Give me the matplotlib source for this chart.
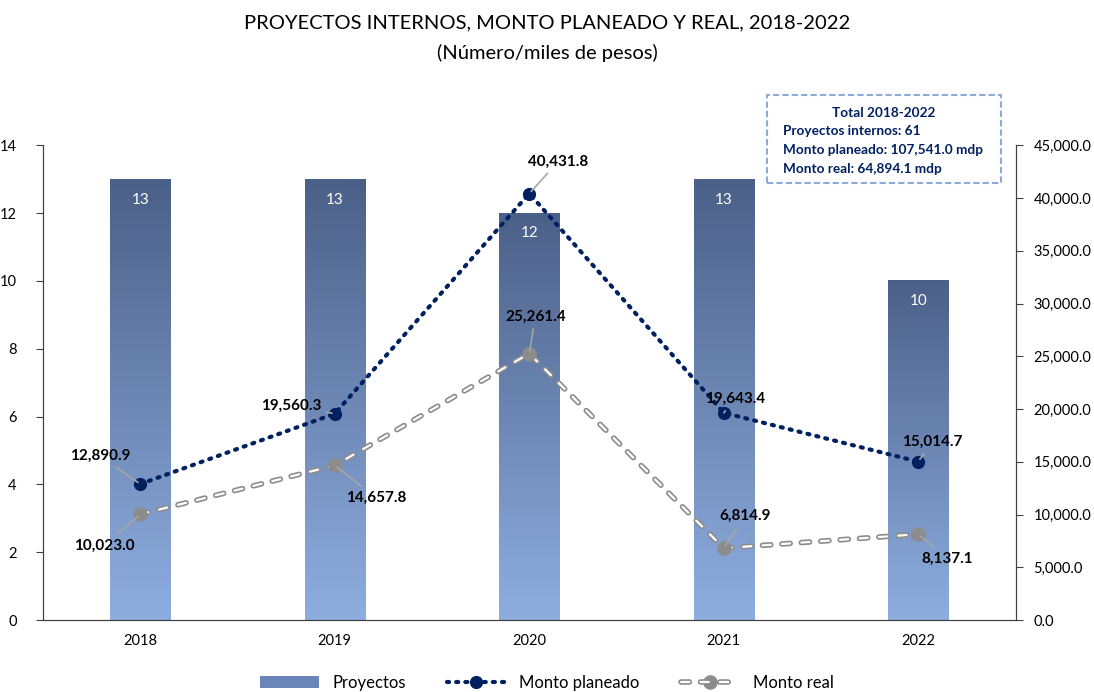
import numpy as np
import matplotlib.pyplot as plt
from matplotlib.lines import Line2D
from matplotlib.patches import Patch, FancyBboxPatch
from matplotlib.colors import LinearSegmentedColormap
from matplotlib.ticker import FuncFormatter

plt.rcParams['font.family'] = ['Lato', 'DejaVu Sans']

years = ['2018', '2019', '2020', '2021', '2022']
proyectos = [13, 13, 12, 13, 10]
monto_planeado = [12890.9, 19560.3, 40431.8, 19643.4, 15014.7]
monto_real = [10023.0, 14657.8, 25261.4, 6814.9, 8137.1]

# label offsets (pixels) for the data labels
off_plan = [(-40, 28), (-44, 8), (29, 32), (11, 14), (14, 20)]
off_real = [(-36, -31), (41, -32), (6, 37), (21, 32), (29, -25)]

navy = '#002060'
gray = '#8c8c8c'

# dashed "pill" style for monto real: gray outer, white core, same pattern
lw_out, lw_in = 4.0, 1.6
dash_pt = (6.0, 8.0)
dash_out = (0, (dash_pt[0] / lw_out, dash_pt[1] / lw_out))
dash_in = (0, (dash_pt[0] / lw_in, dash_pt[1] / lw_in))

fig = plt.figure(figsize=(10.94, 6.92), dpi=100)
ax = fig.add_axes([0.0393, 0.104, 0.889, 0.686])
ax2 = ax.twinx()

x = np.arange(len(years))
w = 0.31
cmap = LinearSegmentedColormap.from_list('bar', ['#8eaee0', '#4b6088'])
grad = np.linspace(0, 1, 256).reshape(-1, 1)
for i, v in enumerate(proyectos):
    ax.imshow(grad, extent=(i - w / 2, i + w / 2, 0, v), origin='lower',
              aspect='auto', cmap=cmap, zorder=1)
    ax.text(i, v - 0.6, str(v), ha='center', va='center', color='white',
            fontsize=11, zorder=2)

ax.set_xlim(-0.5, len(years) - 0.5)
ax.set_ylim(0, 14)
ax.set_yticks(range(0, 15, 2))
ax.set_xticks(x)
ax.set_xticklabels(years)
ax.tick_params(axis='x', length=0, pad=10, labelsize=10.5)
ax.tick_params(axis='y', length=5, labelsize=10.5, color='#404040', pad=14)
ax.spines['top'].set_visible(False)
ax2.spines['top'].set_visible(False)
for s in ['left', 'right', 'bottom']:
    ax.spines[s].set_color('#404040')
    ax2.spines[s].set_color('#404040')

ax2.set_ylim(0, 45000)
ax2.set_yticks(range(0, 45001, 5000))
ax2.yaxis.set_major_formatter(FuncFormatter(lambda v, p: f'{v:,.1f}'))
ax2.tick_params(axis='y', length=5, labelsize=10.5, color='#404040', pad=8)
ax2.set_zorder(ax.get_zorder() + 1)
ax2.patch.set_visible(False)

# monto planeado
ax2.plot(x, monto_planeado, color=navy, lw=3.0, linestyle=(0, (0.5, 1.7)),
         dash_capstyle='round', marker='o', markersize=8.5, zorder=4)
# monto real
ax2.plot(x, monto_real, color=gray, lw=lw_out, linestyle=dash_out,
         dash_capstyle='round', zorder=3)
ax2.plot(x, monto_real, color='white', lw=lw_in, linestyle=dash_in,
         dash_capstyle='round', zorder=3)
ax2.plot(x, monto_real, linestyle='none', marker='o', markersize=9.5,
         color=gray, zorder=3)

for i, v in enumerate(monto_planeado):
    ax2.annotate(f'{v:,.1f}', xy=(i, v), xytext=off_plan[i],
                 textcoords='offset pixels', ha='center', va='center',
                 fontsize=11, fontweight='bold', color='black', zorder=6,
                 arrowprops=dict(arrowstyle='-', color='#a6a6a6', lw=1.2,
                                 shrinkA=2, shrinkB=2))
for i, v in enumerate(monto_real):
    ax2.annotate(f'{v:,.1f}', xy=(i, v), xytext=off_real[i],
                 textcoords='offset pixels', ha='center', va='center',
                 fontsize=11, fontweight='bold', color='black', zorder=6,
                 arrowprops=dict(arrowstyle='-', color='#a6a6a6', lw=1.2,
                                 shrinkA=2, shrinkB=2))

fig.text(0.5, 0.967, 'PROYECTOS INTERNOS, MONTO PLANEADO Y REAL, 2018-2022',
         ha='center', va='center', fontsize=14.5)
fig.text(0.5, 0.924, '(Número/miles de pesos)', ha='center', va='center',
         fontsize=14.5)

# total box
box = FancyBboxPatch((767 / 1094, 1 - 183 / 692), 234 / 1094, 88 / 692,
                     boxstyle='square,pad=0', transform=fig.transFigure,
                     fill=False, edgecolor='#8eaadb', lw=1.5,
                     linestyle=(0, (3, 1.5)))
fig.patches.append(box)
fig.text(884 / 1094, 1 - 113 / 692, 'Total 2018-2022', ha='center',
         va='center', fontsize=9.8, fontweight='bold', color=navy)
lines = ['Proyectos internos: 61', 'Monto planeado: 107,541.0 mdp',
         'Monto real: 64,894.1 mdp']
for k, t in enumerate(lines):
    fig.text(783 / 1094, 1 - (131 + k * 19) / 692, t, ha='left', va='center',
             fontsize=9.8, fontweight='bold', color=navy)

h_bar = Patch(facecolor='#6a86b8', edgecolor='none')
h_plan = Line2D([], [], color=navy, lw=3.0, linestyle=(0, (0.5, 1.7)),
                dash_capstyle='round', marker='o', markersize=8.5)
h_real1 = Line2D([], [], color=gray, lw=lw_out, linestyle=dash_out,
                 dash_capstyle='round', marker='o', markersize=9.5)
h_real2 = Line2D([], [], color='white', lw=lw_in, linestyle=dash_in,
                 dash_capstyle='round')
fig.legend([h_bar, h_plan, (h_real1, h_real2)],
           ['Proyectos', 'Monto planeado', 'Monto real'],
           loc='center', bbox_to_anchor=(0.5, 0.013), ncol=3, frameon=False,
           fontsize=12, handlelength=3.5, columnspacing=2.5)

fig.savefig('out.png', dpi=100)
